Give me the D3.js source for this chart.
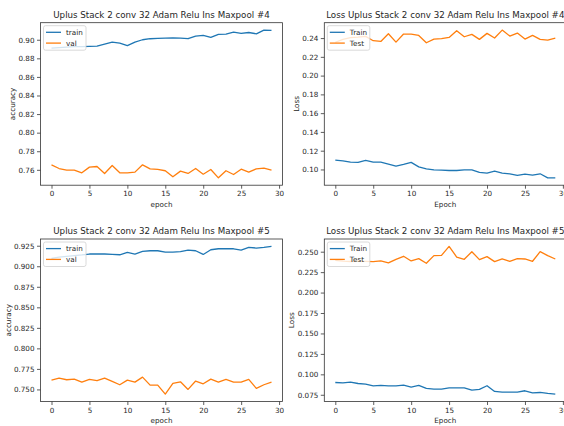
<!DOCTYPE html>
<html>
<head>
<meta charset="utf-8">
<script src="https://cdn.jsdelivr.net/npm/d3@7"></script>
<style>
  body { margin: 0; background: #fff; }
  svg { font-family: "DejaVu Sans", sans-serif; }
</style>
</head>
<body>
<svg id="chart" width="564" height="426"></svg>
<script>
// epochs 0..29
const epochs = d3.range(30);
const xTicks = [0, 5, 10, 15, 20, 25, 30];

// run #4
const acc4Train = [0.891, 0.8915, 0.892, 0.8925, 0.8925, 0.8928, 0.8932, 0.8953, 0.8975, 0.8964,
                   0.8936, 0.8975, 0.900, 0.9011, 0.9015, 0.9018, 0.9021, 0.9018, 0.9011, 0.9039,
                   0.9047, 0.9025, 0.9057, 0.9061, 0.9082, 0.9068, 0.9078, 0.9064, 0.9104, 0.910];
const acc4Val = [0.7654, 0.7614, 0.7596, 0.7596, 0.7568, 0.7629, 0.7636, 0.7561, 0.7647, 0.7568,
                 0.7568, 0.7575, 0.7654, 0.7611, 0.7604, 0.759, 0.7525, 0.7586, 0.7561, 0.7614,
                 0.7553, 0.7604, 0.7514, 0.759, 0.755, 0.7607, 0.7575, 0.7611, 0.7618, 0.7596];
const loss4Train = [0.110, 0.1092, 0.1078, 0.1075, 0.1096, 0.1078, 0.1078, 0.1057, 0.1036, 0.1053,
                    0.1075, 0.1028, 0.1007, 0.0996, 0.0993, 0.0989, 0.0989, 0.0996, 0.0996, 0.0968,
                    0.0961, 0.0982, 0.0961, 0.0954, 0.0936, 0.095, 0.094, 0.0954, 0.0911, 0.0911];
const loss4Test = [0.2355, 0.2385, 0.2405, 0.241, 0.2418, 0.2372, 0.2364, 0.2446, 0.2357, 0.2443,
                   0.2443, 0.2428, 0.235, 0.2389, 0.2393, 0.2407, 0.2478, 0.2414, 0.2439, 0.2386,
                   0.245, 0.240, 0.2485, 0.2421, 0.2453, 0.2389, 0.2428, 0.2386, 0.2379, 0.240];

// run #5
const acc5Train = [0.9095, 0.911, 0.912, 0.913, 0.9138, 0.9149, 0.9149, 0.9149, 0.9144, 0.914,
                   0.9169, 0.9149, 0.9181, 0.9189, 0.9189, 0.9173, 0.9173, 0.9177, 0.9197, 0.9189,
                   0.9144, 0.9201, 0.9213, 0.9213, 0.9213, 0.9197, 0.923, 0.9222, 0.923, 0.9242];
const acc5Val = [0.7614, 0.7638, 0.7618, 0.7626, 0.7589, 0.7622, 0.7606, 0.7638, 0.7597, 0.7557,
                 0.7614, 0.7589, 0.765, 0.7553, 0.7553, 0.7443, 0.7573, 0.7593, 0.750, 0.7602,
                 0.7569, 0.7626, 0.7589, 0.7622, 0.7589, 0.7589, 0.7622, 0.7512, 0.7557, 0.7589];
const loss5Train = [0.090, 0.0896, 0.0904, 0.0888, 0.088, 0.086, 0.0864, 0.086, 0.086, 0.0868,
                    0.0843, 0.0864, 0.0827, 0.0819, 0.0819, 0.0835, 0.0835, 0.0835, 0.0807, 0.0815,
                    0.086, 0.0791, 0.0782, 0.0782, 0.0782, 0.0799, 0.0774, 0.0778, 0.0766, 0.0758];
const loss5Test = [0.2395, 0.2385, 0.238, 0.2385, 0.2382, 0.2379, 0.2387, 0.2363, 0.2407, 0.2444,
                   0.2387, 0.2415, 0.2359, 0.2452, 0.2456, 0.2565, 0.2435, 0.2407, 0.250, 0.2403,
                   0.244, 0.2379, 0.2411, 0.2383, 0.2415, 0.2411, 0.2383, 0.250, 0.2452, 0.2411];

const accTicks4 = [0.76, 0.78, 0.80, 0.82, 0.84, 0.86, 0.88, 0.90];
const lossTicks4 = [0.10, 0.12, 0.14, 0.16, 0.18, 0.20, 0.22, 0.24];
const accTicks5 = [0.750, 0.775, 0.800, 0.825, 0.850, 0.875, 0.900, 0.925];
const lossTicks5 = [0.075, 0.100, 0.125, 0.150, 0.175, 0.200, 0.225, 0.250];

const blue = "#1f77b4", orange = "#ff7f0e";
const svg = d3.select("#chart");

const panels = [
  { left: 40.5, top: 22.7, title: "Uplus Stack 2 conv 32 Adam Relu Ins Maxpool #4",
    xlabel: "epoch", ylabel: "accuracy", ylabelX: 12, series: [acc4Train, acc4Val],
    names: ["train", "val"], yticks: accTicks4, fmt: d3.format(".2f") },
  { left: 324.3, top: 22.7, title: "Loss Uplus Stack 2 conv 32 Adam Relu Ins Maxpool #4",
    xlabel: "Epoch", ylabel: "Loss", ylabelX: 296, series: [loss4Train, loss4Test],
    names: ["Train", "Test"], yticks: lossTicks4, fmt: d3.format(".2f") },
  { left: 40.5, top: 239, title: "Uplus Stack 2 conv 32 Adam Relu Ins Maxpool #5",
    xlabel: "epoch", ylabel: "accuracy", ylabelX: 8.5, series: [acc5Train, acc5Val],
    names: ["train", "val"], yticks: accTicks5, fmt: d3.format(".3f") },
  { left: 324.3, top: 239, title: "Loss Uplus Stack 2 conv 32 Adam Relu Ins Maxpool #5",
    xlabel: "Epoch", ylabel: "Loss", ylabelX: 291, series: [loss5Train, loss5Test],
    names: ["Train", "Test"], yticks: lossTicks5, fmt: d3.format(".3f") }
];

const pw = 242, ph = 162.5;
const fs = 7.2;

panels.forEach(p => {
  const g = svg.append("g").attr("transform", `translate(${p.left},${p.top})`);

  // matplotlib style 5% margins
  const all = p.series.flat();
  const lo = d3.min(all), hi = d3.max(all), pad = (hi - lo) * 0.05;
  const x = d3.scaleLinear().domain([-1.45, 30.45]).range([0, pw]);
  const y = d3.scaleLinear().domain([lo - pad, hi + pad]).range([ph, 0]);

  const xAxis = g.append("g")
      .attr("transform", `translate(0,${ph})`)
      .call(d3.axisBottom(x).tickValues(xTicks).tickSize(3.5).tickPadding(2.5));
  const yAxis = g.append("g")
      .call(d3.axisLeft(y).tickValues(p.yticks).tickFormat(p.fmt).tickSize(3.5).tickPadding(2.5));
  [xAxis, yAxis].forEach(a => {
    a.select(".domain").remove();
    a.selectAll("line").attr("stroke", "#333").attr("stroke-width", 0.8);
    a.selectAll("text").attr("font-size", fs).attr("fill", "#262626")
      .attr("font-family", "DejaVu Sans");
  });

  const line = d3.line().x((d, i) => x(epochs[i])).y(d => y(d));
  p.series.forEach((s, k) => {
    g.append("path")
      .datum(s)
      .attr("fill", "none")
      .attr("stroke", k === 0 ? blue : orange)
      .attr("stroke-width", 1.3)
      .attr("stroke-linejoin", "round")
      .attr("d", line);
  });

  g.append("rect")
    .attr("width", pw).attr("height", ph)
    .attr("fill", "none").attr("stroke", "#333").attr("stroke-width", 0.8);

  // legend
  const lg = g.append("g").attr("transform", "translate(3,3)");
  lg.append("rect")
    .attr("width", 42.5).attr("height", 24.5).attr("rx", 2)
    .attr("fill", "white").attr("fill-opacity", 0.8)
    .attr("stroke", "#d0d0d0").attr("stroke-width", 0.8);
  p.names.forEach((n, k) => {
    const yy = 6.6 + k * 10.8;
    lg.append("line")
      .attr("x1", 2.5).attr("x2", 17.5).attr("y1", yy).attr("y2", yy)
      .attr("stroke", k === 0 ? blue : orange).attr("stroke-width", 1.3);
    lg.append("text")
      .attr("x", 22.5).attr("y", yy + 2.5)
      .attr("font-size", fs).attr("fill", "#262626")
      .text(n);
  });

  g.append("text")
    .attr("x", pw / 2).attr("y", -5)
    .attr("text-anchor", "middle")
    .attr("font-size", 8.7).attr("fill", "#262626")
    .text(p.title);

  g.append("text")
    .attr("x", pw / 2).attr("y", ph + 21.5)
    .attr("text-anchor", "middle")
    .attr("font-size", fs).attr("fill", "#262626")
    .text(p.xlabel);

  svg.append("text")
    .attr("transform", `translate(${p.ylabelX + 2.5},${p.top + ph / 2}) rotate(-90)`)
    .attr("text-anchor", "middle")
    .attr("font-size", fs).attr("fill", "#262626")
    .text(p.ylabel);
});
</script>
</body>
</html>
